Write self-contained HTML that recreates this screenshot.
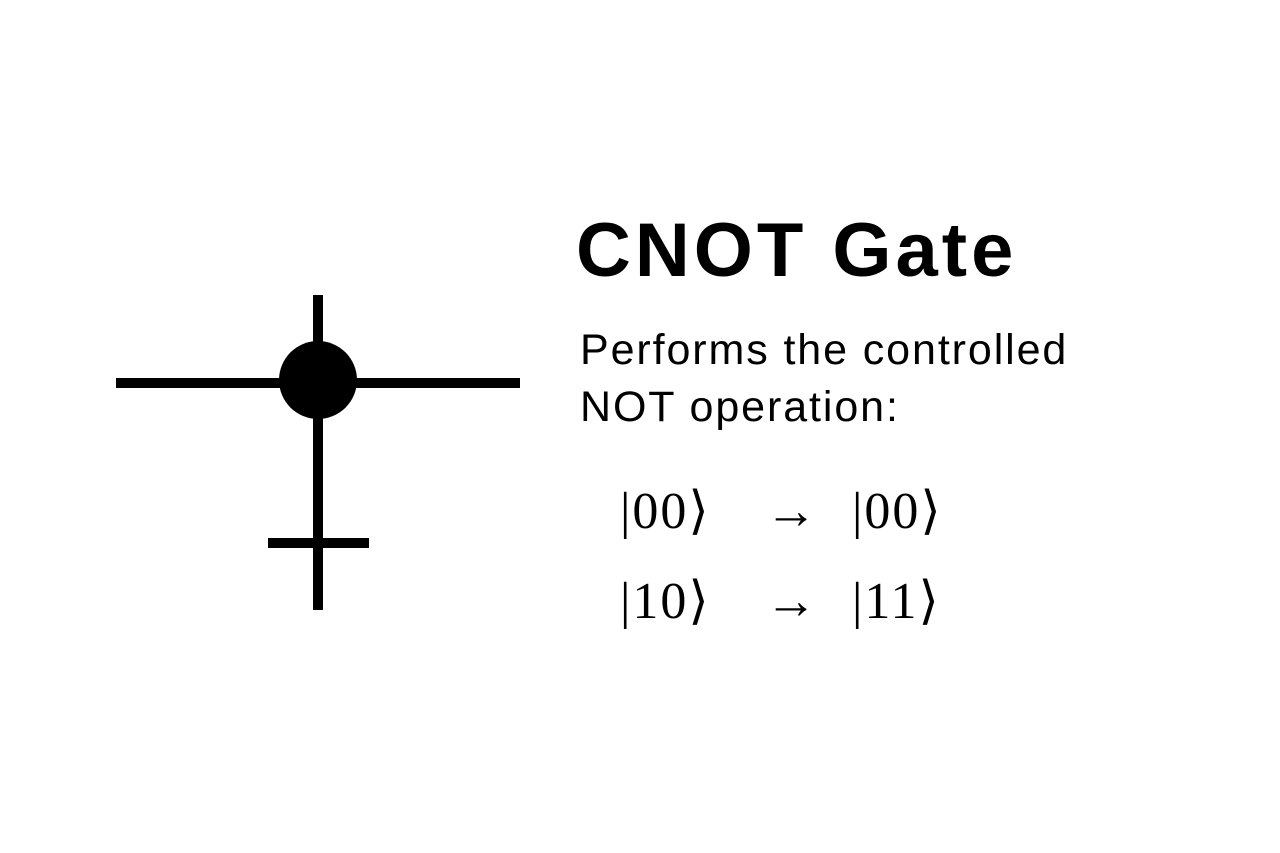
<!DOCTYPE html>
<html><head><meta charset="utf-8"><style>
body{margin:0;width:1280px;height:853px;background:#fff;position:relative;overflow:hidden;font-family:"Liberation Sans",sans-serif;color:#000}
.a{position:absolute;white-space:nowrap}
.m{font-family:"Liberation Serif","DejaVu Serif",serif;font-size:52px;line-height:1;letter-spacing:2px}
</style></head><body>
<svg class="a" style="left:0;top:0" width="1280" height="853">
<line x1="116" y1="383" x2="520" y2="383" stroke="#000" stroke-width="10"/>
<line x1="318" y1="295" x2="318" y2="610" stroke="#000" stroke-width="10"/>
<circle cx="318" cy="380" r="39" fill="#000"/>
<line x1="268" y1="543" x2="369" y2="543" stroke="#000" stroke-width="10"/>
</svg>
<div class="a" style="left:576px;top:206px;font-size:76px;font-weight:bold;line-height:90px;letter-spacing:4px">CNOT Gate</div>
<div class="a" style="left:580px;top:322px;font-size:43px;line-height:57px;letter-spacing:1.9px">Performs the controlled<br>NOT operation:</div>
<div class="a m" style="left:620px;top:486px">|00⟩</div>
<div class="a m" style="left:765px;top:486px">→</div>
<div class="a m" style="left:852px;top:486px">|00⟩</div>
<div class="a m" style="left:620px;top:576px">|10⟩</div>
<div class="a m" style="left:765px;top:576px">→</div>
<div class="a m" style="left:852px;top:576px">|11⟩</div>
</body></html>
